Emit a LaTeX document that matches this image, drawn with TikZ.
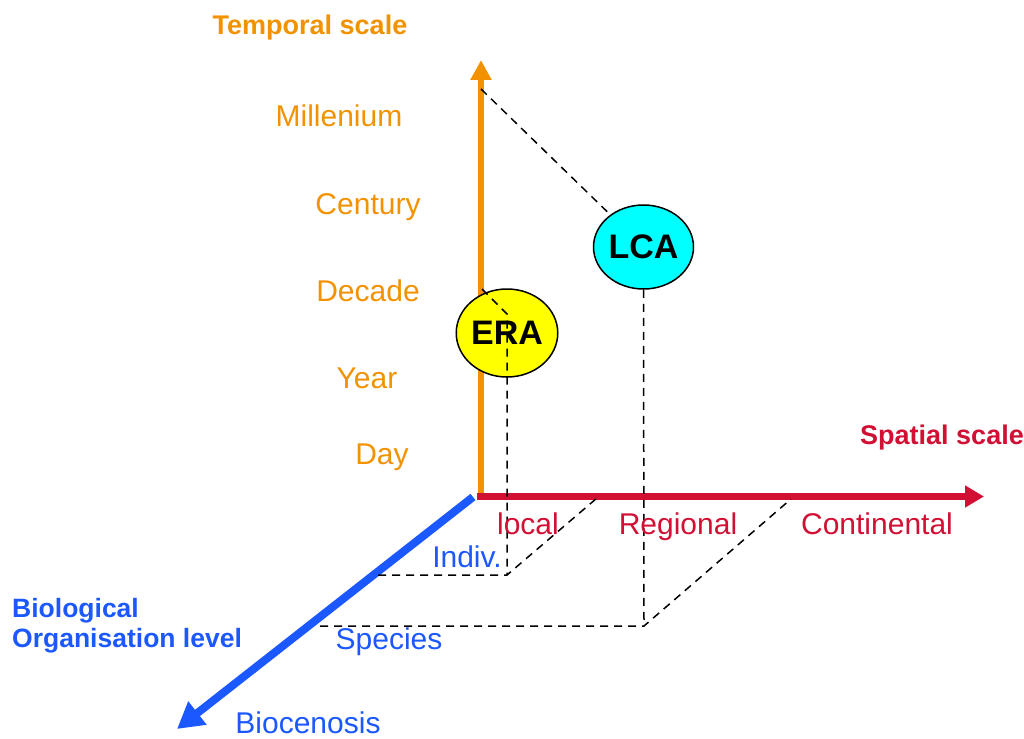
\documentclass[tikz,border=0pt]{standalone}
\usepackage{fontspec}
\setmainfont{Liberation Sans}
\usetikzlibrary{arrows.meta,shapes.geometric}
\definecolor{torange}{RGB}{243,146,0}
\definecolor{sred}{RGB}{210,16,52}
\definecolor{bblue}{RGB}{28,88,255}
\definecolor{lcacyan}{RGB}{0,255,255}
\definecolor{erayellow}{RGB}{255,255,0}
\tikzset{
  lbl/.style={font=\fontsize{30}{32}\selectfont, inner sep=0pt, anchor=base},
  ttl/.style={font=\bfseries\fontsize{27}{29}\selectfont, inner sep=0pt, anchor=base},
  dsh/.style={black, line width=1.5pt, dash pattern=on 8pt off 6pt},
  bubble/.style={ellipse, draw=black, line width=1.5pt, minimum width=100pt, font=\bfseries\fontsize{34}{36}\selectfont, inner sep=0pt}
}
\begin{document}
\begin{tikzpicture}[x=1pt,y=-1pt]
\useasboundingbox (0,0) rectangle (1024,738);
% axes
\coordinate (ob) at (473,497);
\coordinate (tt) at (481,60);
\coordinate (st) at (984,496.5);
\coordinate (bt) at (177,729);
\draw[bblue, line width=8pt, -{Triangle[length=26pt,width=28pt]}] (ob) -- (bt);
\draw[torange, line width=6pt, -{Triangle[length=20pt,width=20pt]}] (481,499) -- (tt);
\draw[sred, line width=7pt, -{Triangle[length=19pt,width=21pt]}] (477,496.5) -- (st);
% bubbles
\node[bubble, fill=erayellow, minimum height=88pt] (era) at (507,333) {ERA};
\node[bubble, fill=lcacyan, minimum height=84pt] (lca) at (643.5,247) {LCA};
% dashed projections
\coordinate (tm) at (481,89);
\coordinate (td) at (482,289);
\coordinate (e1) at (507,314);
\coordinate (e2) at (507,575);
\coordinate (e3) at (597,498);
\coordinate (e4) at (378,575);
\coordinate (l2) at (644,626);
\coordinate (l3) at (791,499);
\coordinate (l4) at (320,626);
\draw[dsh] (tm) -- (lca);
\draw[dsh] (lca.south) -- (l2);
\draw[dsh] (l4) -- (l2) -- (l3);
\draw[dsh] (td) -- (e1) -- (e2);
\draw[dsh] (e4) -- (e2) -- (e3);
% temporal labels
\node[ttl, torange] (ttitle) at (310,34.5) {Temporal scale};
\node[lbl, torange] (mil) at (339,126.5) {Millenium};
\node[lbl, torange] (cen) at (368,214.5) {Century};
\node[lbl, torange] (dec) at (368,301.5) {Decade};
\node[lbl, torange] (yea) at (367,388.5) {Year};
\node[lbl, torange] (day) at (382,464.5) {Day};
% spatial labels
\node[ttl, sred] (stitle) at (942,444) {Spatial scale};
\node[lbl, sred] (loc) at (528,534.5) {local};
\node[lbl, sred] (reg) at (678,534.5) {Regional};
\node[lbl, sred] (con) at (877,534.5) {Continental};
% biological labels
\node[bblue, font=\bfseries\fontsize{26.5}{30}\selectfont, align=left, inner sep=0pt, anchor=base west] (btitle) at (12,647) {Biological\\Organisation level};
\node[lbl, bblue] (ind) at (467,567.5) {Indiv.};
\node[lbl, bblue] (spe) at (389,649.5) {Species};
\node[lbl, bblue] (bio) at (308,733) {Biocenosis};
\end{tikzpicture}
\end{document}
